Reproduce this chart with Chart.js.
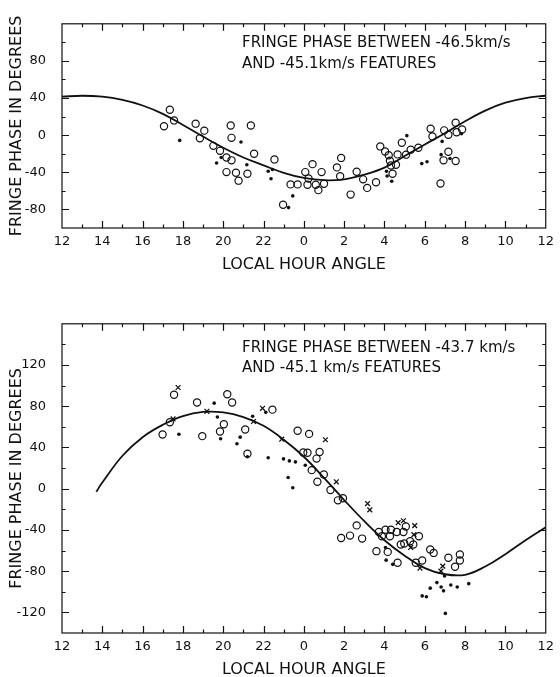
<!DOCTYPE html>
<html><head><meta charset="utf-8">
<script src="https://cdn.jsdelivr.net/npm/chart.js@4/dist/chart.umd.min.js"></script>
<style>
html,body{margin:0;padding:0;background:#fff;}
#w{position:relative;width:560px;height:677px;overflow:hidden;}
canvas{position:absolute;left:0;}
</style></head><body>
<div id="w">
<canvas id="c1" width="560" height="300" style="top:0;width:560px;height:300px"></canvas>
<canvas id="c2" width="560" height="377" style="top:300px;width:560px;height:377px"></canvas>
</div>
<script>
// ---- tick labels / titles ----
const xTickLabels = ['12','14','16','18','20','22','0','2','4','6','8','10','12'];
const topYTickLabels = [80,40,0,-40,-80];
const botYTickLabels = [120,80,40,0,-40,-80,-120];
const topNote = ['FRINGE PHASE BETWEEN -46.5km/s','AND -45.1km/s FEATURES'];
const botNote = ['FRINGE PHASE BETWEEN -43.7 km/s','AND -45.1 km/s FEATURES'];

// ---- top panel data (hour counted 12..36, i.e. 12h .. 24/0h .. 12h) ----
const topCurveHour  = [12,13,14,15,16,17,18,19,20,21,22,23,24,25,26,27,28,29,30,31,32,33,34,35,36];
const topCurvePhase = [41.5,42.5,41.5,38,32,23,11,-1.5,-13.5,-24,-32.5,-40.5,-46,-48.5,-47.5,-42.5,-35,-22.5,-10,2,15,26.5,35,40,42.5];

const topOpenHour  = [17.06,17.35,17.56,18.63,18.84,19.06,19.51,19.84,20.16,20.41,20.16,20.63,20.76,21.2,20.37,20.41,21.37,21.53,22.54,22.97,23.34,23.69,24.07,24.23,24.18,24.59,24.72,25.0,24.43,24.88,25.64,25.85,25.8,26.62,26.94,27.14,27.58,26.32,27.79,28.03,28.21,28.27,28.32,28.57,28.4,28.65,28.86,29.07,29.3,29.68,30.29,30.38,30.96,31.17,31.53,31.58,31.85,31.17,30.93,31.53,30.78];
const topOpenPhase = [9.7,27.4,15.9,12.4,-3.3,4.9,-11.5,-16.9,-24.1,-27.1,-39.8,-40.5,-49,-41.5,10.4,-2.9,10.4,-20,-26.1,-75,-53,-53,-39.8,-46.6,-53.4,-53.4,-59.2,-52.4,-31.2,-39.8,-34.7,-24.5,-44.2,-39.4,-47.6,-56.8,-50.7,-64,-12.1,-17.6,-21.7,-27.5,-32.6,-31.9,-41.5,-20.7,-8.1,-21,-15.6,-13.5,7,-1.5,5.2,0.5,13.4,3.2,6.2,-17.9,-27.1,-27.8,-52.1];

const topDotHour  = [17.84,19.67,19.9,20.88,21.17,22.23,22.44,22.37,23.45,23.24,29.11,28.1,28.13,28.36,29.85,30.11,30.86,30.81,31.25,31.82];
const topDotPhase = [-5.6,-29.9,-24.1,-7.4,-31.9,-38.8,-37,-47,-65.4,-78,-0.5,-38.8,-43.9,-49.6,-30.6,-28.6,-6.7,-21,-25.1,1.5];

// ---- bottom panel data ----
const botCurveHour  = [13.7,14,15,16,17,18,19,20,21,22,23,24,25,26,27,28,29,30,31,32,33,34,35,36];
const botCurvePhase = [-3,6,32,50,62,70.5,74.5,74,69.5,61,47.5,31,10.5,-11,-31.5,-50,-65,-77,-83,-83.5,-75.5,-63.5,-50,-37.5];

const botOpenHour  = [16.99,17.35,17.56,18.7,18.96,19.84,20.03,20.2,20.44,21.09,21.2,22.44,23.69,24.26,23.97,24.18,24.78,24.63,24.39,24.99,24.67,25.32,25.69,25.94,26.62,25.85,26.29,26.89,27.72,28.05,28.32,28.61,28.94,29.06,27.6,27.87,28.27,28.16,28.65,28.81,28.98,29.27,29.43,29.71,29.55,29.87,30.27,30.44,31.17,31.5,31.74,31.74];
const botOpenPhase = [52.6,64.5,91.1,83.7,51,55.5,62.6,91.7,83.7,57.5,34,76.7,56.3,53.2,35.2,34.9,35.6,29.2,18,13.8,6.7,-1.3,-11.3,-9.3,-35.6,-47.8,-45.5,-48.4,-42,-39.8,-39.8,-42,-42,-36.6,-60.6,-46.2,-46.2,-61.3,-71.9,-54.2,-53.2,-51,-54.2,-46.2,-71.9,-69.6,-59,-62.3,-67,-75.7,-63.8,-69.6];

const botDotHour  = [17.8,19.55,19.71,19.87,20.68,20.84,21.46,22.11,22.23,21.2,22.99,23.28,23.58,24.07,23.22,23.45,28.05,28.08,28.41,29.87,30.08,30.27,30.6,30.81,30.93,30.98,31.29,31.61,32.18,31.02];
const botDotPhase = [52.9,83,69.6,48.4,43.6,50,70.3,74.1,30.1,31,28.9,27,26,22.8,10.9,1,-57,-69.3,-73.4,-104,-104.9,-96.5,-91.1,-95.3,-99.1,-84.7,-93.4,-95.3,-92.1,-121];

const botCrossHour  = [17.76,17.51,19.19,21.95,21.5,22.9,25.07,25.61,27.16,27.27,28.68,28.94,29.5,29.46,29.3,29.76,30.89,30.8];
const botCrossPhase = [98.2,67.7,75.1,78,65.2,48,47.5,6.7,-14.4,-20.5,-33,-31.1,-35.8,-44.6,-57,-77,-75.1,-80];

// ---- helpers ----
const INK = '#111';
const FONT = 'DejaVu Sans';
function pairs(xs, ys){ return xs.map((x,i)=>({x:x, y:ys[i]})); }

const frameTicks = {
  id:'frameTicks',
  afterDatasetsDraw(chart, args, opts){
    const {ctx, chartArea:a, scales:{x,y}} = chart;
    ctx.save();
    ctx.strokeStyle = INK; ctx.lineWidth = 1.2;
    ctx.strokeRect(a.left, a.top, a.right-a.left, a.bottom-a.top);
    ctx.beginPath();
    for (let h = x.min + 1; h < x.max; h += 1) {
      const px = Math.round(x.getPixelForValue(h)) + 0.5;
      const L = (h % 2 === 0) ? 7 : 3.5;
      ctx.moveTo(px, a.bottom); ctx.lineTo(px, a.bottom - L);
      ctx.moveTo(px, a.top); ctx.lineTo(px, a.top + L);
    }
    for (let v = y.min + 20; v < y.max; v += 20) {
      const py = Math.round(y.getPixelForValue(v)) + 0.5;
      const L = opts.yLabels.includes(v) ? 7 : 3.5;
      ctx.moveTo(a.left, py); ctx.lineTo(a.left + L, py);
      ctx.moveTo(a.right, py); ctx.lineTo(a.right - L, py);
    }
    ctx.stroke();
    ctx.fillStyle = INK;
    ctx.font = opts.font;
    ctx.textBaseline = 'middle';
    ctx.textAlign = 'left';
    opts.lines.forEach((t,i)=>ctx.fillText(t, a.left + opts.dx, a.top + opts.dy + i*opts.gap));
    ctx.restore();
  }
};

function makeChart(id, cfg){
  return new Chart(document.getElementById(id), {
    type:'scatter',
    data:{ datasets:[
      { type:'line', data:pairs(cfg.curveH, cfg.curveV), borderColor:INK, borderWidth:1.8, pointRadius:0, tension:0.4, fill:false, order:5 },
      { data:pairs(cfg.openH, cfg.openV), pointStyle:'circle', pointRadius:3.6, borderWidth:1.2, borderColor:INK, backgroundColor:'rgba(0,0,0,0)' },
      { data:pairs(cfg.dotH, cfg.dotV), pointStyle:'circle', pointRadius:1.8, borderWidth:0, backgroundColor:INK },
      { data:pairs(cfg.crossH, cfg.crossV), pointStyle:'crossRot', pointRadius:3.4, borderWidth:1.3, borderColor:INK }
    ]},
    options:{
      responsive:false, animation:false, devicePixelRatio:1,
      layout:{ padding:{ left:0, right:6, top:cfg.padTop, bottom:0 } },
      plugins:{ legend:{display:false}, tooltip:{enabled:false},
        frameTicks:{ lines:cfg.note, font:'15px "'+FONT+'"', dx:180, dy:cfg.noteDy, gap:20.5, yLabels:cfg.yLabels } },
      scales:{
        x:{ type:'linear', min:12, max:36, afterFit(s){ s.height = cfg.xHeight; },
            grid:{display:false, drawTicks:false}, border:{display:false},
            ticks:{ stepSize:1, autoSkip:false, maxRotation:0, padding:cfg.xTickPad, color:INK,
                    font:{family:FONT, size:13},
                    callback:(v)=> (v % 2 === 0) ? xTickLabels[(v-12)/2] : '' },
            title:{ display:true, text:'LOCAL HOUR ANGLE', color:INK, font:{family:FONT, size:16}, padding:{top:0, bottom:cfg.xTitlePad} } },
        y:{ type:'linear', min:cfg.yMin, max:cfg.yMax, afterFit(s){ s.width = 62; },
            grid:{display:false, drawTicks:false}, border:{display:false},
            ticks:{ stepSize:20, autoSkip:false, padding:16, color:INK, font:{family:FONT, size:13},
                    callback:(v)=> cfg.yLabels.includes(v) ? String(v) : '' },
            title:{ display:true, text:'FRINGE PHASE IN DEGREES', color:INK, font:{family:FONT, size:16}, padding:{top:7, bottom:0} } }
      }
    },
    plugins:[frameTicks]
  });
}

makeChart('c1', { curveH:topCurveHour, curveV:topCurvePhase, openH:topOpenHour, openV:topOpenPhase,
  dotH:topDotHour, dotV:topDotPhase, crossH:[], crossV:[], yMin:-100, yMax:120, yLabels:topYTickLabels,
  padTop:12, xHeight:72, xTickPad:6, xTitlePad:26, note:topNote, noteDy:19.5 });

makeChart('c2', { curveH:botCurveHour, curveV:botCurvePhase, openH:botOpenHour, openV:botOpenPhase,
  dotH:botDotHour, dotV:botDotPhase, crossH:botCrossHour, crossV:botCrossPhase, yMin:-140, yMax:160, yLabels:botYTickLabels,
  padTop:18, xHeight:44, xTickPad:6, xTitlePad:-2, note:botNote, noteDy:24 });
</script>
</body></html>
